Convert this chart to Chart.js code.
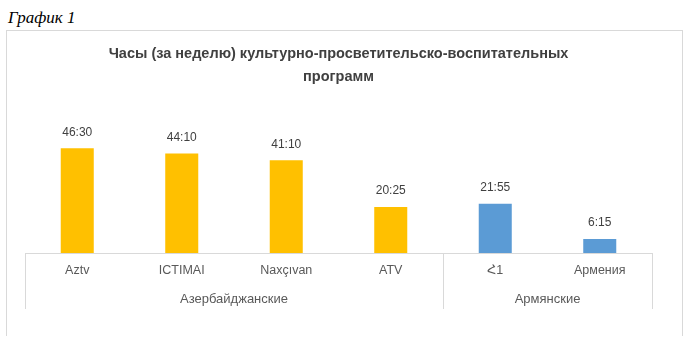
<!DOCTYPE html>
<html lang="ru">
<head>
<meta charset="utf-8"/>
<style>
  body { margin: 0; background: #fff; width: 686px; height: 352px; position: relative; overflow: hidden; }
  #cap { position: absolute; left: 8px; top: 8px; font: italic 17px "Liberation Serif", "DejaVu Serif", serif; color: #000; }
  #box { position: absolute; left: 6px; top: 30px; width: 675px; height: 305px;
         border: 1px solid #D9D9D9; border-bottom: none; }
</style>
</head>
<body>
<div id="cap">График 1</div>
<div id="box">
  <canvas id="myChart" width="675" height="305"></canvas>
</div>

<script src="https://cdn.jsdelivr.net/npm/chart.js"></script>
<script>
  // channels and weekly minutes of programmes
  var channels = ["Aztv", "ICTIMAI", "Naxçıvan", "ATV", "Հ1", "Армения"];
  var minutes = [2790, 2650, 2470, 1225, 1315, 375];
  var groups = ["Азербайджанские", "Армянские"];
  var groupSizes = [4, 2];
  var groupColors = ["#FFC000", "#5B9BD5"];
  var yMax = 3600;

  var colors = [];
  groupSizes.forEach(function (n, g) {
    for (var i = 0; i < n; i++) colors.push(groupColors[g]);
  });

  function fmt(m) {
    var h = Math.floor(m / 60), mm = m % 60;
    return h + ":" + (mm < 10 ? "0" + mm : mm);
  }

  var font = "'Liberation Sans', Arial, sans-serif";

  var groupAxis = {
    id: "groupAxis",
    afterDraw: function (chart) {
      var x = chart.scales.x, ctx = chart.ctx, area = chart.chartArea;
      var step = x.width / channels.length;
      ctx.save();
      ctx.strokeStyle = "#D9D9D9";
      ctx.lineWidth = 1;
      ctx.fillStyle = "#595959";
      ctx.font = "13px " + font;
      ctx.textAlign = "center";
      ctx.textBaseline = "middle";
      var start = 0;
      groupSizes.forEach(function (n, g) {
        var l = x.getPixelForValue(start) - step / 2;
        var r = x.getPixelForValue(start + n - 1) + step / 2;
        [l, r].forEach(function (px) {
          px = Math.round(px) + 0.5;
          ctx.beginPath();
          ctx.moveTo(px, area.bottom);
          ctx.lineTo(px, area.bottom + 56);
          ctx.stroke();
        });
        ctx.fillText(groups[g], (l + r) / 2, area.bottom + 46);
        start += n;
      });
      ctx.restore();
    },
    afterDatasetsDraw: function (chart) {
      var ctx = chart.ctx, meta = chart.getDatasetMeta(0);
      ctx.save();
      ctx.fillStyle = "#404040";
      ctx.font = "12px " + font;
      ctx.textAlign = "center";
      ctx.textBaseline = "middle";
      meta.data.forEach(function (bar, i) {
        ctx.fillText(fmt(minutes[i]), bar.x, bar.y - 16);
      });
      ctx.restore();
    }
  };

  var myChart = new Chart(document.getElementById("myChart"), {
    type: "bar",
    data: {
      labels: channels,
      datasets: [{
        data: minutes,
        backgroundColor: colors,
        barPercentage: 0.316,
        categoryPercentage: 1
      }]
    },
    options: {
      responsive: false,
      animation: false,
      layout: { padding: { left: 18, right: 30, top: 0, bottom: 0 } },
      plugins: {
        legend: { display: false },
        tooltip: { enabled: false },
        title: {
          display: true,
          text: ["Часы (за неделю) культурно-просветительско-воспитательных", "программ"],
          color: "#404040",
          font: { family: font, size: 14.5, weight: "bold", lineHeight: 1.55 },
          padding: { top: 12, bottom: 30 }
        }
      },
      scales: {
        y: { display: false, min: 0, max: yMax },
        x: {
          grid: { display: false, drawTicks: false },
          border: { display: true, color: "#D9D9D9" },
          ticks: { color: "#595959", font: { family: font, size: 12.5 }, padding: 10, maxRotation: 0 },
          afterFit: function (scale) { scale.height = 83; }
        }
      }
    },
    plugins: [groupAxis]
  });
</script>
</body>
</html>
